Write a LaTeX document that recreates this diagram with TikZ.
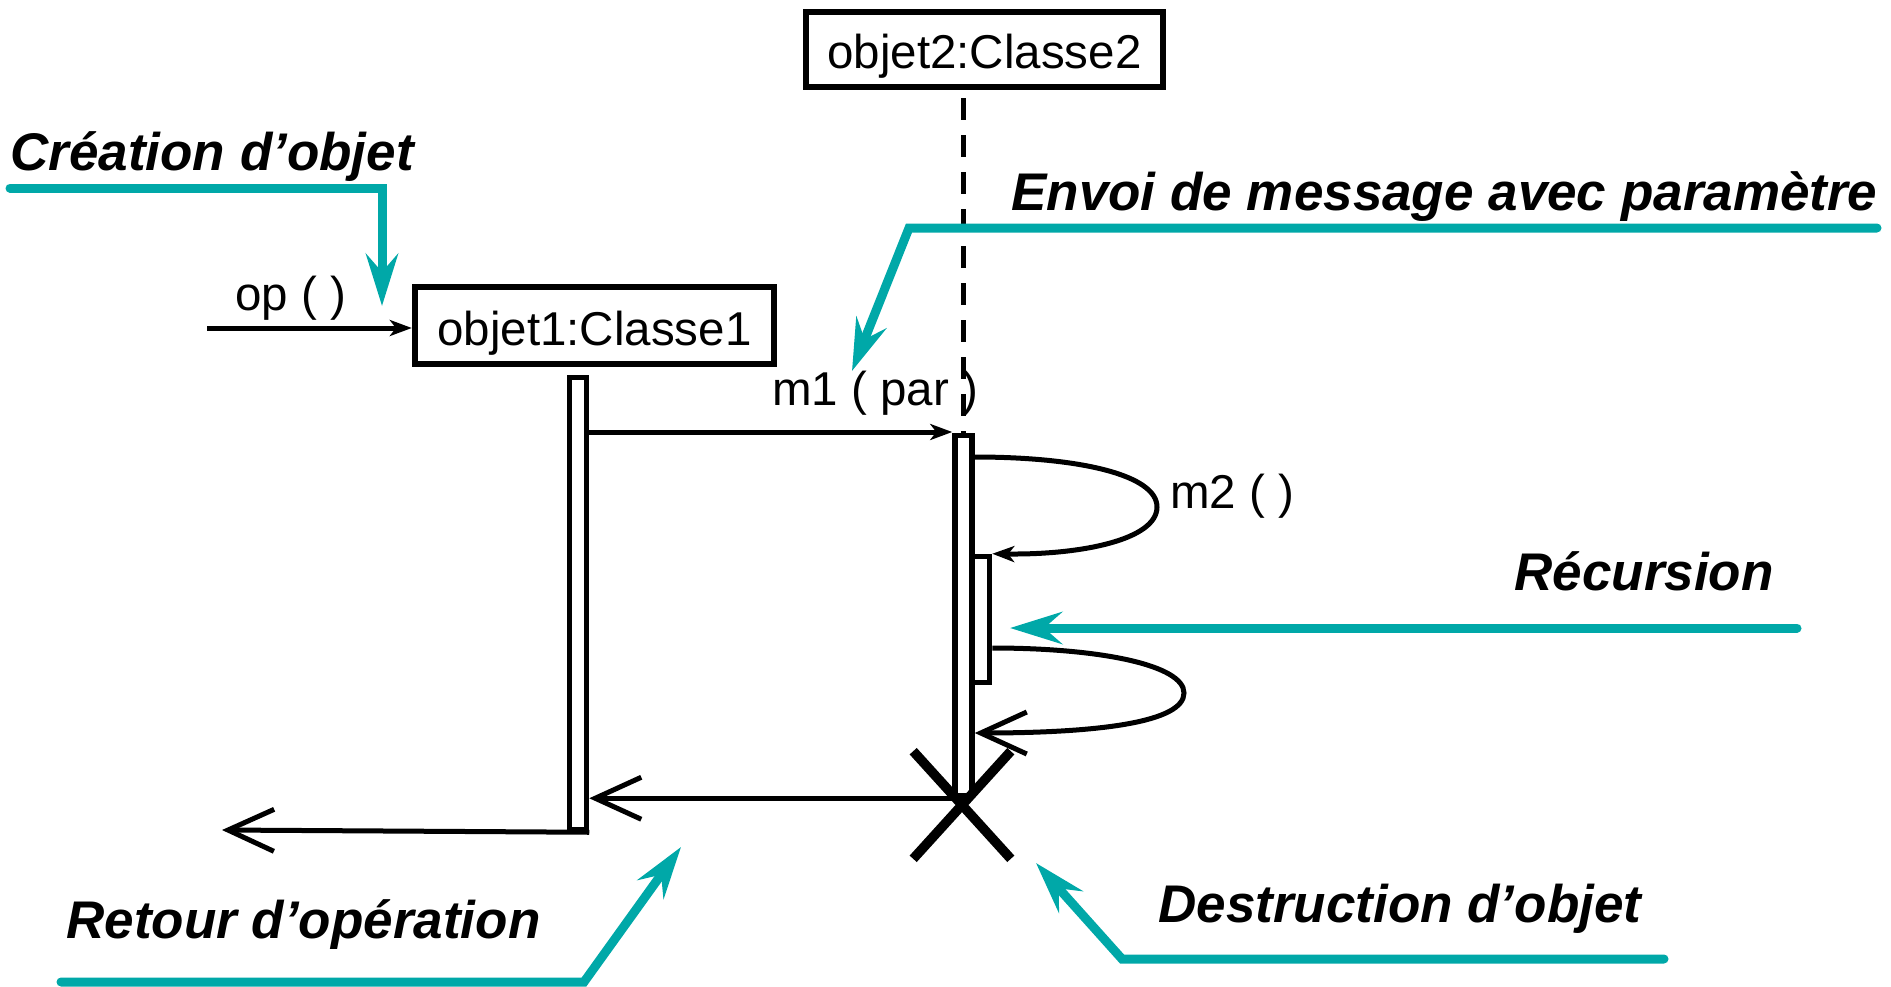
\documentclass[tikz,border=0pt]{standalone}
\usepackage{fontspec}
\setmainfont{Liberation Sans}
\usetikzlibrary{arrows.meta,shapes.misc}
\definecolor{annot}{RGB}{0,168,168}
\begin{document}
\begin{tikzpicture}[x=0.5pt,y=-0.5pt,
  objbox/.style={draw, line width=2.9pt, inner sep=0pt, font=\fontsize{23.75pt}{28pt}\selectfont},
  actbar/.style={draw, fill=white, line width=2.75pt, inner sep=0pt, minimum width=8.5pt},
  msg/.style={line width=2.5pt, -{Stealth[length=11pt,width=8pt,inset=3pt]}},
  retmsg/.style={line width=2.5pt, -{Straight Barb[length=23pt,width=21pt]}},
  lbl/.style={inner sep=0pt, anchor=base, font=\fontsize{23.75pt}{28pt}\selectfont},
  note/.style={inner sep=0pt, anchor=base west, font=\fontsize{26.5pt}{30pt}\selectfont\bfseries\itshape},
  notearrow/.style={draw=annot, line width=4.5pt, line cap=round, -{Stealth[length=26pt,width=16pt,inset=9pt]}},
  lifeline/.style={line width=2.6pt, dash pattern=on 11pt off 7.5pt},
  destroy/.style={draw, cross out, line width=4.8pt, inner sep=0pt, minimum width=44pt, minimum height=49pt}
]
\useasboundingbox (0,0) rectangle (1891,986);

% objects
\node[objbox, minimum width=179.75pt, minimum height=38.75pt, text height=20pt, text depth=0.5pt] (obj1) at (594.5,325.5) {objet1:Classe1};
\node[objbox, minimum width=178.75pt, minimum height=37.75pt, text height=19pt, text depth=0.5pt] (obj2) at (984.5,49.5) {objet2:Classe2};

% activation bars
\node[actbar, minimum height=226pt] (bar1) at (578,603.5) {};
\node[actbar, minimum height=180pt] (bar2) at (963.5,615.5) {};
\draw[lifeline] (obj2.south -| bar2.north) ++(0,8) -- (bar2.north);
\node[actbar, minimum height=63pt] (nest) at (981,619.5) {};

% creation message
\coordinate (opsrc) at (207,328);
\draw[msg] (opsrc) -- (opsrc -| obj1.west);
\node[lbl] (opl) at (290.5,310) {op ( )};

% m1
\coordinate (m1y) at (0,432);
\draw[msg] (bar1.east |- m1y) -- (bar2.west |- m1y);
\node[lbl] (m1l) at (875,405) {m1 ( par )};

% m2 self call
\coordinate (m2y) at (0,457);
\draw[msg] (bar2.east |- m2y) .. controls (1080,457) and (1157,475) .. (1157,507)
  .. controls (1157,540) and (1080,555) .. (nest.north east);
\node[lbl] (m2l) at (1232,508) {m2 ( )};

% recursive return
\coordinate (l2y) at (0,648);
\coordinate (l2e) at (0,733);
\draw[retmsg] (nest.east |- l2y) .. controls (1100,648) and (1184,665) .. (1184,693)
  .. controls (1184,722) and (1100,733) .. (bar2.east |- l2e);

% returns
\draw[retmsg] (bar2.south) -- (bar2.south -| bar1.east);
\coordinate (retend) at (222,830);
\draw[retmsg] (bar1.south east) -- (retend);

% destruction
\node[destroy] (destr) at (962,805) {};

% annotations
\node[note] (cre) at (10,170) {Création d’objet};
\coordinate (cre1) at (10,188);
\coordinate (cre2) at (382,188);
\coordinate (cret) at (382,306);
\draw[notearrow] (cre1) -- (cre2) -- (cret);

\node[note] (env) at (1011,210) {Envoi de message avec paramètre};
\coordinate (env1) at (1877,228);
\coordinate (env2) at (909,228);
\coordinate (envt) at (852,371);
\draw[notearrow] (env1) -- (env2) -- (envt);

\node[note] (rec) at (1514,590) {Récursion};
\coordinate (rec1) at (1797,628);
\coordinate (rect) at (1010,628);
\draw[notearrow] (rec1) -- (rect);

\node[note] (ret) at (66,938) {Retour d’opération};
\coordinate (ret1) at (61,982);
\coordinate (ret2) at (584,982);
\coordinate (rett) at (681,847);
\draw[notearrow] (ret1) -- (ret2) -- (rett);

\node[note] (des) at (1158,922) {Destruction d’objet};
\coordinate (des1) at (1664,959);
\coordinate (des2) at (1122,959);
\coordinate (dest) at (1036,863);
\draw[notearrow] (des1) -- (des2) -- (dest);
\end{tikzpicture}
\end{document}
